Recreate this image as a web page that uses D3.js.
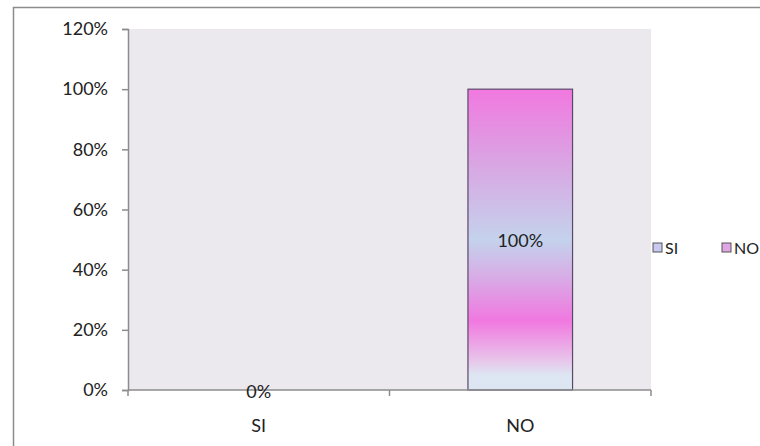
<!DOCTYPE html>
<html>
<head>
<meta charset="utf-8">
<script src="https://cdn.jsdelivr.net/npm/d3@7"></script>
<style>
  html, body { margin: 0; padding: 0; background: #fff; }
  svg { display: block; }
  text { font-family: Lato, "Open Sans", sans-serif; fill: #222; }
</style>
</head>
<body>
<svg id="chart" width="760" height="446"></svg>
<script>
// Survey answers and their shares
const categories = ["SI", "NO"];
const values = [0, 1];
const valueLabels = ["0%", "100%"];
const yTicks = [0, 0.2, 0.4, 0.6, 0.8, 1.0, 1.2];
const legendItems = ["SI", "NO"];

const svg = d3.select("#chart");
const W = 760, H = 446;

// Outer frame (only top and left edges fall inside the view)
svg.append("rect")
  .attr("x", 13.5).attr("y", 7.5)
  .attr("width", W).attr("height", H)
  .attr("fill", "#fff").attr("stroke", "#8c8c8c").attr("stroke-width", 1.5);

const plot = { left: 128, right: 651, top: 29, bottom: 390 };

const x = d3.scaleBand()
  .domain(categories)
  .range([plot.left, plot.right])
  .paddingInner(0.6).paddingOuter(0.3);

const y = d3.scaleLinear()
  .domain([0, 1.2])
  .range([plot.bottom, plot.top]);

// Plot area background
svg.append("rect")
  .attr("x", plot.left).attr("y", plot.top)
  .attr("width", plot.right - plot.left).attr("height", plot.bottom - plot.top)
  .attr("fill", "#ebe8ee");

// Bar gradient
const defs = svg.append("defs");
const grad = defs.append("linearGradient")
  .attr("id", "barGrad").attr("x1", 0).attr("y1", 0).attr("x2", 0).attr("y2", 1);
[
  [0.0, "#f178e0"],
  [0.25, "#d9a6e3"],
  [0.5, "#c4d2ec"],
  [0.62, "#d7aee6"],
  [0.77, "#f178e0"],
  [0.9, "#e8c4ea"],
  [0.95, "#dde6f2"],
  [1.0, "#dce6f2"]
].forEach(([o, c]) => grad.append("stop").attr("offset", o).attr("stop-color", c));

// Bars
const bars = categories.map((c, i) => ({ cat: c, v: values[i], label: valueLabels[i] }));
svg.append("g").selectAll("rect")
  .data(bars.filter(d => d.v > 0))
  .join("rect")
  .attr("x", d => x(d.cat))
  .attr("y", d => y(d.v))
  .attr("width", x.bandwidth())
  .attr("height", d => y(0) - y(d.v))
  .attr("fill", "url(#barGrad)")
  .attr("stroke", "#5a4a6a").attr("stroke-width", 1.2);

// Y axis
const yAxis = d3.axisLeft(y)
  .tickValues(yTicks)
  .tickFormat(d3.format(".0%"))
  .tickSize(6).tickPadding(14);
const gy = svg.append("g")
  .attr("transform", `translate(${plot.left},0)`)
  .call(yAxis);
gy.select(".domain").attr("stroke", "#8c8c8c").attr("stroke-width", 1.5);
gy.selectAll(".tick line").attr("stroke", "#8c8c8c").attr("stroke-width", 1.5);
gy.selectAll(".tick text")
  .style("font-family", "Lato, sans-serif")
  .style("font-size", "18px").attr("fill", "#222");

// X axis with ticks at category boundaries
const gx = svg.append("g").attr("transform", `translate(0,${plot.bottom})`);
gx.append("line")
  .attr("x1", plot.left).attr("x2", plot.right)
  .attr("stroke", "#8c8c8c").attr("stroke-width", 1.5);
const step = (plot.right - plot.left) / categories.length;
gx.selectAll(".bound")
  .data(d3.range(categories.length + 1))
  .join("line")
  .attr("x1", i => plot.left + i * step).attr("x2", i => plot.left + i * step)
  .attr("y1", 0).attr("y2", 6)
  .attr("stroke", "#8c8c8c").attr("stroke-width", 1.5);
gx.selectAll(".cat")
  .data(categories)
  .join("text")
  .attr("x", d => x(d) + x.bandwidth() / 2)
  .attr("y", 42)
  .attr("text-anchor", "middle")
  .style("font-size", "18px")
  .text(d => d);

// Value labels
svg.append("g").selectAll("text")
  .data(bars)
  .join("text")
  .attr("x", d => x(d.cat) + x.bandwidth() / 2)
  .attr("y", d => d.v > 0 ? y(d.v / 2) + 7 : y(0) + 8)
  .attr("text-anchor", "middle")
  .style("font-size", "18px")
  .text(d => d.label);

// Legend
const legendFills = ["#c8c8f0", "#e0a6e6"];
const legendX = [653, 722];
const lg = svg.append("g").selectAll("g")
  .data(legendItems)
  .join("g")
  .attr("transform", (d, i) => `translate(${legendX[i]},243)`);
lg.append("rect")
  .attr("width", 9).attr("height", 9)
  .attr("fill", (d, i) => legendFills[i])
  .attr("stroke", "#555").attr("stroke-width", 1);
lg.append("text")
  .attr("x", 12).attr("y", 11)
  .style("font-size", "16px")
  .text(d => d);
</script>
</body>
</html>
